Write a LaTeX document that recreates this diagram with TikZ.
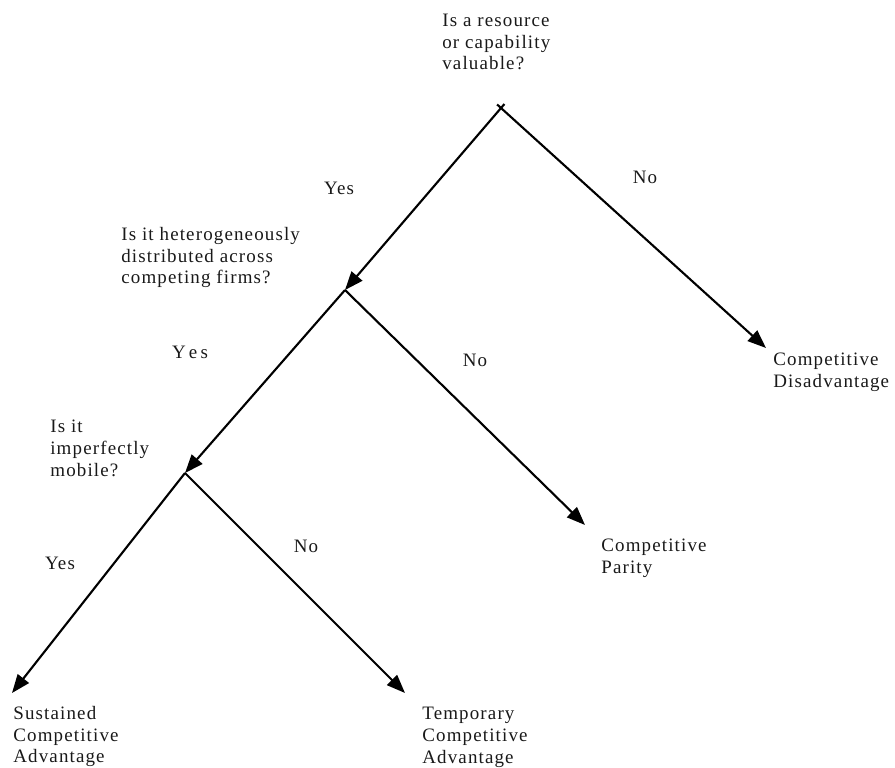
\documentclass[tikz,border=0pt]{standalone}
\usepackage{fontspec}
\usepackage{tikz}
\usetikzlibrary{arrows.meta}
\newfontfamily\treefont[LetterSpace=6]{Liberation Serif}

\begin{document}
\begin{tikzpicture}[x=.02cm,y=-.02cm,
    lbl/.style={font=\treefont\fontsize{10.8}{12.3}\selectfont,text=black!90,inner sep=0pt},
    txt/.style={lbl,anchor=north west,align=left},
    arr/.style={line width=1.2pt,-{Triangle[length=10.5pt,width=8pt]}}]
      \useasboundingbox (0,0) rectangle (895,767);
      % branch points
      \coordinate (A) at (501,108);
      \coordinate (B) at (345,290);
      \coordinate (C) at (185,473);
      \coordinate (dis) at (766,348);
      \coordinate (par) at (585,525);
      \coordinate (sus) at (12,693);
      \coordinate (tmp) at (405,693);
      % questions
      \node[txt] (q-valuable) at (442,14) {Is a resource\\or capability\\valuable?};
      \node[txt] (q-hetero) at (121,227) {Is it heterogeneously\\distributed across\\competing firms?};
      \node[txt] (q-mobile) at (50,420) {Is it\\imperfectly\\mobile?};
      % outcomes
      \node[txt] (o-dis) at (773,353) {Competitive\\Disadvantage};
      \node[txt] (o-par) at (601,539) {Competitive\\Parity};
      \node[txt] (o-sus) at (13,706) {Sustained\\Competitive\\Advantage};
      \node[txt] (o-tmp) at (422,707) {Temporary\\Competitive\\Advantage};
      % answers
      \node[lbl] (yes1) at (339,188) {Yes};
      \node[lbl] (no1) at (645,177) {No};
      \node[lbl] (yes2) at (190,352) {Y\,e\,s};
      \node[lbl] (no2) at (475,360) {No};
      \node[lbl] (yes3) at (60,563) {Yes};
      \node[lbl] (no3) at (306,546) {No};
      % tree
      \draw[arr,shorten <=-3pt] (A) -- (B);
      \draw[arr,shorten <=-3pt] (A) -- (dis);
      \draw[arr] (B) -- (C);
      \draw[arr] (B) -- (par);
      \draw[arr] (C) -- (sus);
      \draw[arr] (C) -- (tmp);
    \end{tikzpicture}
\end{document}
